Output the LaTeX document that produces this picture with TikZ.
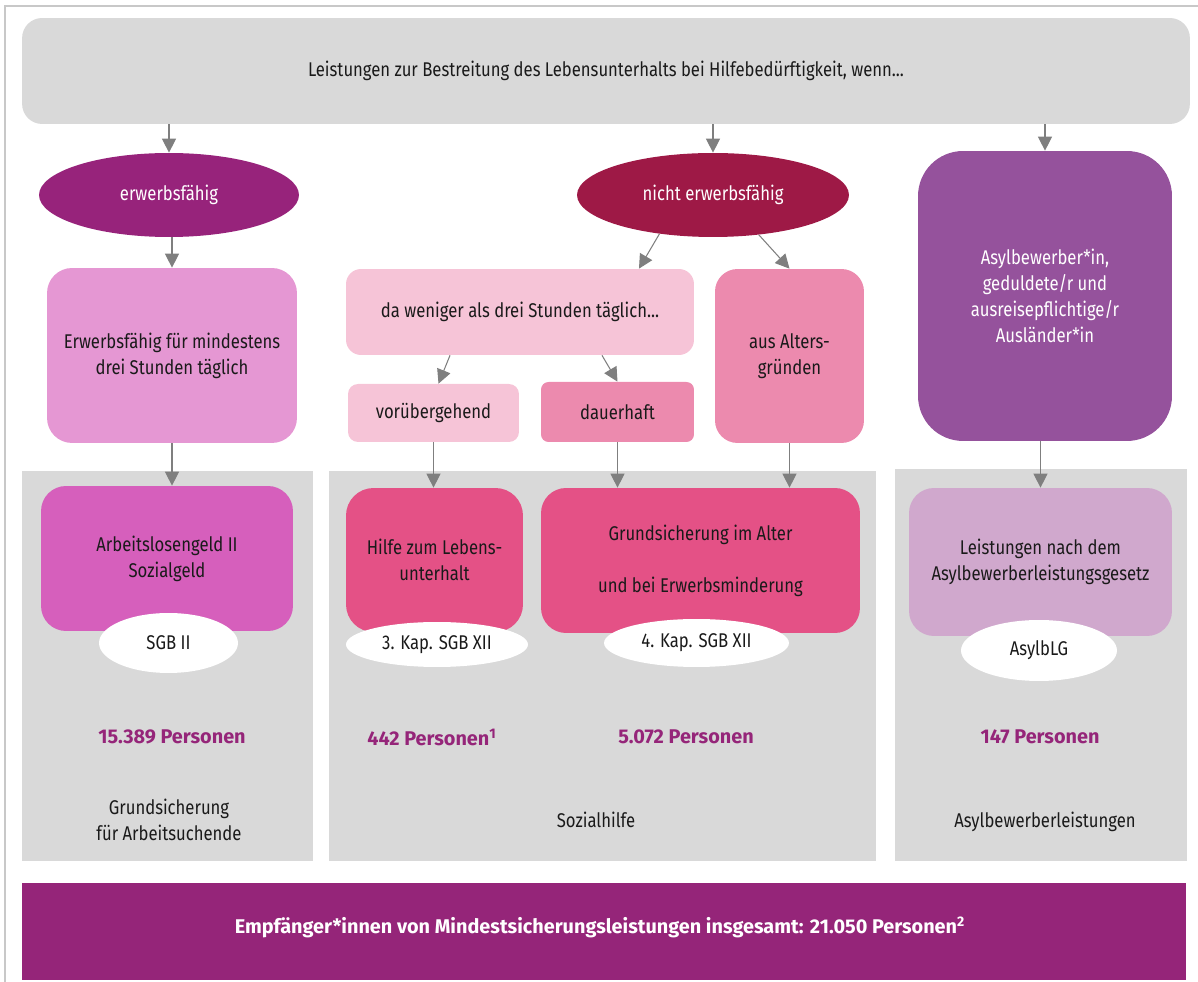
\documentclass[tikz,border=0pt]{standalone}
\usepackage{fontspec}
\setmainfont{Fira Sans}[FakeStretch=0.84]
\newfontfamily\heavyfont{Fira Sans}
\usepackage{tikz}
\usetikzlibrary{shapes.geometric, arrows.meta, positioning}

\definecolor{paneltone}{HTML}{D9D9D9}
\definecolor{framegray}{HTML}{C8C8C8}
\definecolor{arrowgray}{HTML}{7F7F7F}
\definecolor{textdark}{HTML}{1A1A1A}
\definecolor{erwpurple}{HTML}{97237B}
\definecolor{nichtred}{HTML}{9E1946}
\definecolor{orchid}{HTML}{E597D3}
\definecolor{blush}{HTML}{F6C4D7}
\definecolor{rosy}{HTML}{EC8AAE}
\definecolor{asylviolet}{HTML}{95529C}
\definecolor{algmagenta}{HTML}{D65FBC}
\definecolor{hotpink}{HTML}{E45186}
\definecolor{lilac}{HTML}{D0A8CD}
\definecolor{countpurple}{HTML}{952579}

\tikzset{
    base/.style={align=center, inner sep=0pt, text=textdark, font=\fontsize{11.3}{14.7}\selectfont},
    roundbox/.style={base, rectangle, rounded corners=0.5cm},
    oval/.style={base, ellipse},
    panel/.style={rectangle, fill=paneltone, inner sep=0pt},
    count/.style={base, font=\fontsize{11.3}{14.7}\selectfont\heavyfont\bfseries, text=countpurple},
    arrow/.style={draw=arrowgray, line width=0.6pt, -{Triangle[width=8pt,length=8pt]}},
}

\begin{document}
\begin{tikzpicture}[x=0.02cm, y=-0.02cm]
    \useasboundingbox (0,0) rectangle (1198,982);
    \draw[framegray, line width=0.6pt] (5,982) -- (5,6) -- (1198,6);

    % question on top
    \node[roundbox, fill=paneltone, rounded corners=0.4cm, minimum width=23.36cm, minimum height=2.12cm] (top) at (606,71)
        {Leistungen zur Bestreitung des Lebensunterhalts bei Hilfebedürftigkeit, wenn...};

    \node[oval, fill=erwpurple, text=white, minimum width=5.2cm, minimum height=1.68cm] (erw) at (169,195) {erwerbsfähig};
    \node[oval, fill=nichtred, text=white, minimum width=5.44cm, minimum height=1.68cm] (nicht) at (713,195) {nicht erwerbsfähig};

    \node[roundbox, fill=orchid, minimum width=5cm, minimum height=3.5cm] (erwmind) at (172,355.5) {Erwerbsfähig für mindestens\\drei Stunden täglich};
    \node[roundbox, fill=blush, rounded corners=0.3cm, minimum width=6.96cm, minimum height=1.72cm] (weniger) at (520,312) {da weniger als drei Stunden täglich...};
    \node[roundbox, fill=rosy, rounded corners=0.45cm, minimum width=2.98cm, minimum height=3.48cm] (alters) at (789.5,356) {aus Alters-\\gründen};
    \node[roundbox, fill=blush, rounded corners=0.2cm, minimum width=3.42cm, minimum height=1.16cm] (vorueb) at (433.5,413) {vorübergehend};
    \node[roundbox, fill=rosy, rounded corners=0.15cm, minimum width=3.06cm, minimum height=1.2cm] (dauer) at (617.5,412) {dauerhaft};
    \node[roundbox, fill=asylviolet, text=white, rounded corners=0.9cm, minimum width=5.08cm, minimum height=5.8cm] (asyl) at (1045,296)
        {Asylbewerber*in,\\geduldete/r und\\ausreisepflichtige/r\\Ausländer*in};

    % gray panels
    \node[panel, minimum width=5.82cm, minimum height=7.8cm] (sgbtwo) at (167.5,666) {};
    \node[panel, minimum width=10.94cm, minimum height=7.8cm] (sgbtwelve) at (602.5,666) {};
    \node[panel, minimum width=5.84cm, minimum height=7.84cm] (asylpanel) at (1041,665) {};

    \node[roundbox, fill=algmagenta, minimum width=5.04cm, minimum height=2.9cm] (alg) at (167,558.5) {Arbeitslosengeld II\\Sozialgeld};
    \node[roundbox, fill=hotpink, rounded corners=0.55cm, minimum width=3.54cm, minimum height=2.88cm] (hilfe) at (434.5,560) {Hilfe zum Lebens-\\unterhalt};
    \node[roundbox, fill=hotpink, minimum width=6.38cm, minimum height=2.9cm] (grundsich) at (700.5,560.5) {Grundsicherung im Alter\\[14.8pt]und bei Erwerbsminderung};
    \node[roundbox, fill=lilac, minimum width=5.26cm, minimum height=2.96cm] (leist) at (1040.5,562) {Leistungen nach dem\\Asylbewerberleistungsgesetz};

    \node[oval, fill=white, minimum width=2.78cm, minimum height=1.2cm] (sgb2) at (168.5,643) {SGB II};
    \node[oval, fill=white, minimum width=3.64cm, minimum height=0.9cm] (kap3) at (437,644.5) {3. Kap. SGB XII};
    \node[oval, fill=white, minimum width=3.7cm, minimum height=0.96cm] (kap4) at (696.5,643) {4. Kap. SGB XII};
    \node[oval, fill=white, minimum width=3.12cm, minimum height=1.22cm] (asylblg) at (1039,650.5) {AsylbLG};

    \node[count] (ntwo) at (172,737) {15.389 Personen};
    \node[count] (nthree) at (432,737) {442 Personen\textsuperscript{1}};
    \node[count] (nfour) at (686,737) {5.072 Personen};
    \node[count] (nasyl) at (1040,737) {147 Personen};

    \node[base] (lgrund) at (169,819.5) {Grundsicherung\\für Arbeitsuchende};
    \node[base] (lsozial) at (596,820) {Sozialhilfe};
    \node[base] (lasyl) at (1045,822) {Asylbewerberleistungen};

    % total
    \node[rectangle, fill=countpurple, inner sep=0pt, minimum width=23.28cm, minimum height=1.94cm] (band) at (604,931.5) {};
    \node[count, text=white] (total) at (600,927)
        {Empfänger*innen von Mindestsicherungsleistungen insgesamt: 21.050 Personen\textsuperscript{2}};

    % arrows
    \draw[arrow] (top.south -| erw.north) -- (erw.north);
    \draw[arrow] (top.south -| nicht.north) -- (nicht.north);
    \draw[arrow] (top.south -| asyl.north) -- (asyl.north);
    \draw[arrow] (erw.south -| erwmind.north) -- (erwmind.north);
    \draw[arrow] (nicht.216) -- ([xshift=2.38cm]weniger.north);
    \draw[arrow] (nicht.319) -- (alters.north);
    \draw[arrow] ([xshift=-1.4cm]weniger.south) -- ([xshift=0.1cm]vorueb.north);
    \draw[arrow] ([xshift=1.64cm]weniger.south) -- (dauer.north);
    \draw[arrow] (erwmind.south) -- (erwmind.south |- alg.north);
    \draw[arrow] (vorueb.south) -- (vorueb.south |- hilfe.north);
    \draw[arrow] (dauer.south) -- (dauer.south |- grundsich.north);
    \draw[arrow] (alters.south) -- (alters.south |- grundsich.north);
    \draw[arrow] (leist.north |- asyl.south) -- (leist.north);
\end{tikzpicture}
\end{document}
